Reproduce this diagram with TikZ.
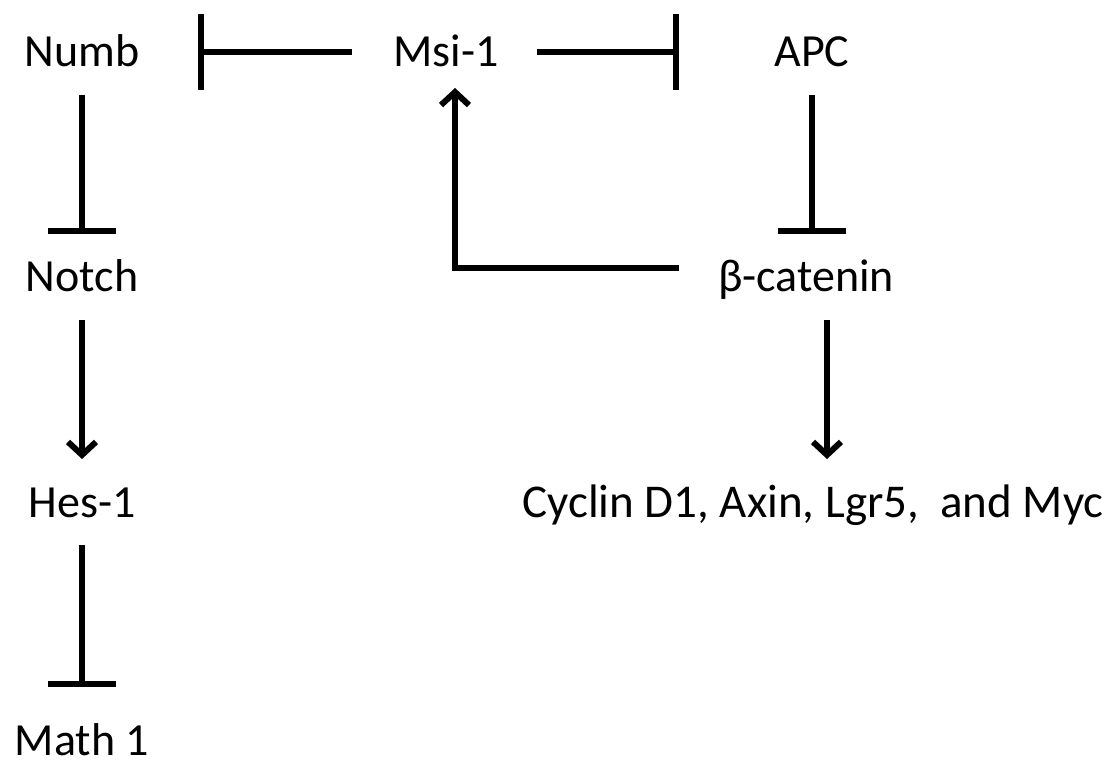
\documentclass[tikz,border=0pt]{standalone}
\usepackage{fontspec}
\setmainfont{Carlito}
\usetikzlibrary{arrows.meta}

\begin{document}
\begin{tikzpicture}[x=1pt, y=-1pt, line width=6pt,
    every node/.style = {font=\fontsize{46}{55}\selectfont, anchor=base, inner xsep=0pt, inner ysep=17pt, text height=38pt, text depth=8pt},
    act/.style = {-{Straight Barb[length=13pt,width=28pt]}},
    inhib/.style = {-{Bar[width=68pt]}},
    inhibv/.style = {-{Bar[width=76pt]}}]
    \useasboundingbox (0,0) rectangle (1117,767);
    % Notch branch
    \node (numb) at (82,67) {Numb};
    \node (notch) at (82,292) {Notch};
    \node (hes) at (82,517) {Hes-1};
    \node[inner ysep=3pt, text depth=0pt] (math) at (82,755) {Math 1};
    % Wnt branch
    \node (msi) at (446,67) {Msi-1};
    \node (apc) at (812,67) {APC};
    \node (beta) at (806,292) {β-catenin};
    \node[font=\fontsize{47}{56}\selectfont] (cyc) at (813,517) {Cyclin D1, Axin, Lgr5,\ \ and Myc};

    \draw[inhib] (numb.south) -- (notch.north);
    \draw[act] (notch.south) -- (hes.north);
    \draw[inhib, shorten >=24pt] (hes.south) -- (math.north);
    \draw[inhibv, shorten <=38pt, shorten >=56pt] (msi.west) -- (numb.east);
    \draw[inhibv, shorten <=35pt, shorten >=93pt] (msi.east) -- (apc.west);
    \draw[inhib] (apc.south) -- (apc.south |- beta.north);
    \draw[act, shorten >=-7pt] ([xshift=-36pt, yshift=9pt]beta.west) -| ([xshift=9pt]msi.south);
    \draw[act] ([xshift=21pt]beta.south) -- ([xshift=14pt]cyc.north);
\end{tikzpicture}
\end{document}
